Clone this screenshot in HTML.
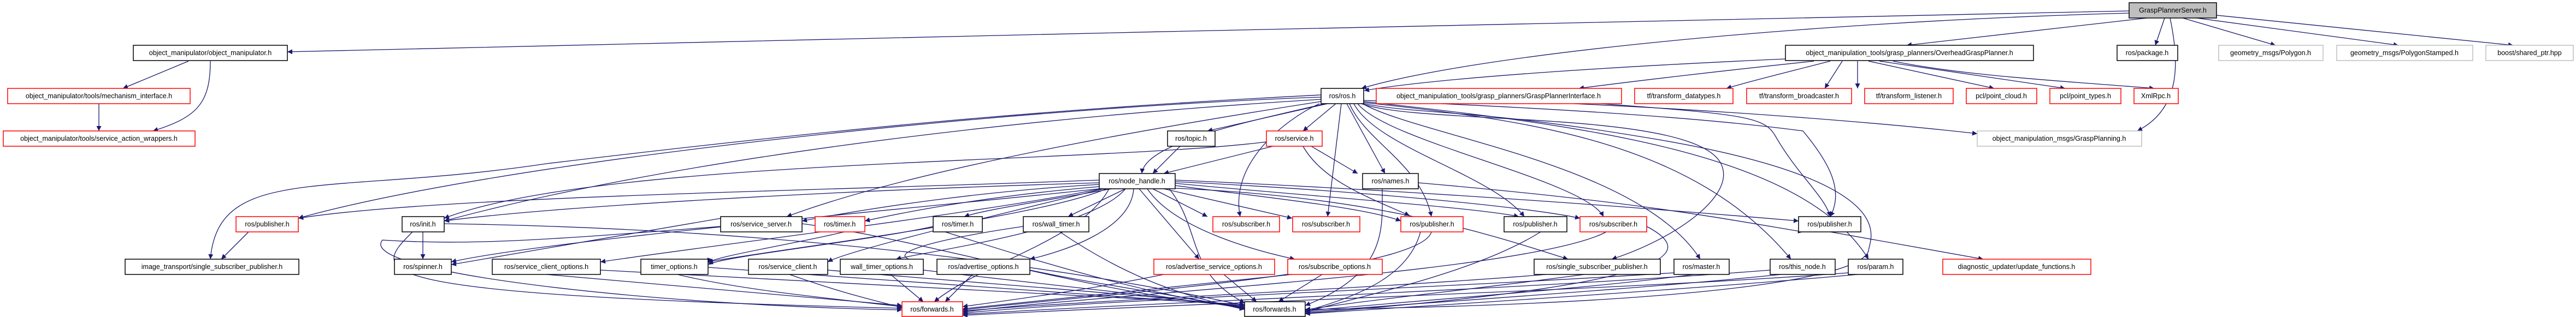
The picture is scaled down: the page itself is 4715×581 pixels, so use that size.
<!DOCTYPE html>
<html><head><meta charset="utf-8"><style>
html,body{margin:0;padding:0;background:#fff}
svg{display:block}
text{font-family:"Liberation Sans",sans-serif;font-size:12.5px;fill:#000;text-anchor:middle;dominant-baseline:central}
.e{fill:none;stroke:#191970;stroke-width:1.3}
.n{fill:#fff;stroke:#000;stroke-width:1.5}
.r{fill:#fff;stroke:#ff0000;stroke-width:1.5}
.g{fill:#fff;stroke:#bfbfbf;stroke-width:1.5}
</style></head><body>
<svg width="4715" height="581" viewBox="0 0 4715 581" xmlns="http://www.w3.org/2000/svg">
<defs><marker id="a" viewBox="0 0 10 10" refX="10" refY="5" markerWidth="9" markerHeight="9" markerUnits="userSpaceOnUse" orient="auto"><path d="M0,0 L10,5 L0,10 z" fill="#191970"/></marker></defs>
<g class="e" marker-end="url(#a)">
<path d="M3897,20 C3000,40 1500,70 526,95"/>
<path d="M3897,24 C3300,40 2700,100 2492,162"/>
<path d="M3930,33 C3700,60 3550,75 3490,83"/>
<path d="M3962,33 L3945,83"/>
<path d="M3972,33 C3990,120 3990,200 3912,240"/>
<path d="M3995,33 L4165,83"/>
<path d="M4020,33 L4390,83"/>
<path d="M4057,28 L4600,83"/>
<path d="M345,112 L225,162"/>
<path d="M385,112 C385,190 360,215 280,240"/>
<path d="M181,190 L181,240"/>
<path d="M3268,108 C3000,120 2650,140 2497,166"/>
<path d="M3320,112 C3150,130 2980,150 2890,162"/>
<path d="M3350,112 C3260,135 3200,150 3160,162"/>
<path d="M3372,112 L3340,162"/>
<path d="M3400,112 L3400,162"/>
<path d="M3420,112 L3650,162"/>
<path d="M3440,112 L3780,162"/>
<path d="M3465,112 C3600,140 3800,150 3943,162"/>
<path d="M2880,190 C3100,200 3400,220 3619,245"/>
<path d="M2930,190 C3200,210 3230,215 3250,250 C3290,320 3340,360 3350,397"/>
<path d="M2430,190 L2210,240"/>
<path d="M2445,190 L2385,240"/>
<path d="M2425,190 C2300,220 2095,260 2090,318"/>
<path d="M2465,190 L2535,318"/>
<path d="M2415,190 C2350,220 2250,300 2270,397"/>
<path d="M2455,190 L2430,397"/>
<path d="M2470,190 C2500,260 2600,300 2620,397"/>
<path d="M2478,190 C2520,270 2730,320 2790,397"/>
<path d="M2485,190 C2540,260 2900,330 2935,397"/>
<path d="M2492,190 C2600,230 3100,200 3150,300 C3180,360 3060,440 2950,475"/>
<path d="M2494,190 C2600,250 3000,300 3112,475"/>
<path d="M2496,188 C2800,220 3100,260 3278,475"/>
<path d="M2496,186 C2900,230 3300,280 3420,475"/>
<path d="M2496,184 C2900,200 3150,220 3300,240 C3350,300 3375,350 3350,397"/>
<path d="M2418,182 C1800,220 1200,300 813,405"/>
<path d="M2418,178 C1800,200 900,300 546,400"/>
<path d="M2418,186 C2200,220 1700,300 1440,397"/>
<path d="M2418,174 C1900,200 1500,240 1000,300 C600,360 400,300 385,475"/>
<path d="M2496,190 C2600,210 2700,200 3000,250 C3500,330 3420,440 3420,460 C3400,520 3000,560 2389,567"/>
<path d="M2330,268 L2130,318"/>
<path d="M2400,268 L2485,318"/>
<path d="M2318,260 C2000,300 1100,290 813,400"/>
<path d="M2385,268 C2420,330 2500,360 2580,395"/>
<path d="M2160,268 L2110,318"/>
<path d="M2530,346 C2530,420 2540,500 2389,560"/>
<path d="M2596,335 C3000,370 3150,400 3300,425"/>
<path d="M2012,330 C1500,350 800,360 546,400"/>
<path d="M2012,335 C1500,350 1000,380 813,405"/>
<path d="M2012,338 C1800,350 1600,380 1468,405"/>
<path d="M2012,342 C1800,360 1650,390 1583,405"/>
<path d="M2035,346 C1900,370 1800,385 1765,397"/>
<path d="M2060,346 L1955,397"/>
<path d="M2110,346 L2210,397"/>
<path d="M2130,346 L2365,400"/>
<path d="M2151,340 C2300,360 2500,380 2564,405"/>
<path d="M2151,336 C2400,360 2700,380 2780,397"/>
<path d="M2151,333 C2500,350 2800,380 2892,400"/>
<path d="M2151,330 C2600,350 3000,380 3292,405"/>
<path d="M2085,346 L2195,475"/>
<path d="M2100,346 C2150,420 2300,460 2370,475"/>
<path d="M2075,346 C2070,420 1950,460 1885,475"/>
<path d="M2060,346 C2000,420 1700,460 1640,475"/>
<path d="M2025,346 C1900,400 1400,460 1296,480"/>
<path d="M2015,346 C1800,390 1300,450 1099,480"/>
<path d="M2020,346 C1800,400 1550,460 1515,480"/>
<path d="M2012,346 C1700,380 1000,440 826,480"/>
<path d="M2030,346 C1980,440 1800,480 1710,553"/>
<path d="M2140,346 C2200,420 2170,500 2278,555"/>
<path d="M2151,345 C2500,360 2700,420 2870,475"/>
<path d="M455,425 L405,475"/>
<path d="M774,425 L774,475"/>
<path d="M755,425 C680,500 640,540 1651,565"/>
<path d="M813,410 C1500,420 2000,500 2278,560"/>
<path d="M1319,415 C1000,440 860,450 700,440 C650,500 1200,560 1651,568"/>
<path d="M1468,410 C1700,440 2000,540 2278,562"/>
<path d="M1320,400 L826,485"/>
<path d="M1583,415 C1500,440 1300,470 1296,482"/>
<path d="M1708,415 C1600,440 1320,470 1296,485"/>
<path d="M1730,425 C1900,480 2100,540 2278,565"/>
<path d="M1873,415 C1700,440 1600,470 1690,480"/>
<path d="M1940,425 C2050,500 2150,540 2278,567"/>
<path d="M2600,425 C2580,500 2500,540 2389,570"/>
<path d="M2620,425 C2600,500 2000,540 1762,568"/>
<path d="M2820,425 C2700,500 2500,540 2389,572"/>
<path d="M2940,425 C2800,500 2000,540 1762,572"/>
<path d="M3014,415 C3100,460 3100,520 2389,574"/>
<path d="M3350,425 L3630,475"/>
<path d="M1000,503 C1300,530 1500,545 1651,560"/>
<path d="M1099,495 C1600,520 2000,540 2278,558"/>
<path d="M1240,503 C1350,530 1500,545 1651,562"/>
<path d="M1296,490 C1700,520 2000,540 2278,560"/>
<path d="M1445,503 C1550,540 1600,550 1651,564"/>
<path d="M1515,495 C1800,520 2100,540 2278,562"/>
<path d="M1630,503 L1690,553"/>
<path d="M1690,495 C1900,520 2100,540 2278,564"/>
<path d="M1780,503 L1730,553"/>
<path d="M1885,495 C2000,520 2150,540 2278,566"/>
<path d="M2130,503 C2000,530 1850,550 1762,562"/>
<path d="M2240,503 L2300,553"/>
<path d="M2365,503 C2100,530 1900,550 1762,566"/>
<path d="M2420,503 L2340,553"/>
<path d="M2830,503 C2500,530 2000,550 1762,570"/>
<path d="M2900,503 C2700,530 2500,550 2389,568"/>
<path d="M3064,500 C2600,530 2000,550 1762,574"/>
<path d="M3100,503 C2900,530 2600,550 2389,570"/>
<path d="M3240,495 C2800,530 2100,555 1762,576"/>
<path d="M3260,503 C3000,530 2600,555 2389,572"/>
<path d="M3383,500 C3000,530 2200,555 1762,578"/>
<path d="M3400,503 C3100,530 2700,555 2389,575"/>
</g>
<g>
<rect class="n" x="3897" y="5" width="160" height="28" style="fill:#bfbfbf"/><text x="3977" y="19">GraspPlannerServer.h</text>
<rect class="n" x="244" y="83" width="282" height="28"/><text x="385" y="97">object_manipulator/object_manipulator.h</text>
<rect class="n" x="3268" y="83" width="454" height="28"/><text x="3495" y="97">object_manipulation_tools/grasp_planners/OverheadGraspPlanner.h</text>
<rect class="n" x="3875" y="83" width="111" height="28"/><text x="3930" y="97">ros/package.h</text>
<rect class="g" x="4061" y="83" width="191" height="28"/><text x="4156" y="97">geometry_msgs/Polygon.h</text>
<rect class="g" x="4277" y="83" width="249" height="28"/><text x="4401" y="97">geometry_msgs/PolygonStamped.h</text>
<rect class="g" x="4550" y="83" width="160" height="28"/><text x="4630" y="97">boost/shared_ptr.hpp</text>
<rect class="r" x="14" y="162" width="334" height="28"/><text x="181" y="176">object_manipulator/tools/mechanism_interface.h</text>
<rect class="n" x="2418" y="162" width="78" height="28"/><text x="2457" y="176">ros/ros.h</text>
<rect class="r" x="2519" y="162" width="449" height="28"/><text x="2743" y="176">object_manipulation_tools/grasp_planners/GraspPlannerInterface.h</text>
<rect class="r" x="2992" y="162" width="180" height="28"/><text x="3082" y="176">tf/transform_datatypes.h</text>
<rect class="r" x="3197" y="162" width="192" height="28"/><text x="3293" y="176">tf/transform_broadcaster.h</text>
<rect class="r" x="3413" y="162" width="162" height="28"/><text x="3494" y="176">tf/transform_listener.h</text>
<rect class="r" x="3599" y="162" width="129" height="28"/><text x="3663" y="176">pcl/point_cloud.h</text>
<rect class="r" x="3752" y="162" width="130" height="28"/><text x="3817" y="176">pcl/point_types.h</text>
<rect class="r" x="3906" y="162" width="81" height="28"/><text x="3946" y="176">XmlRpc.h</text>
<rect class="r" x="6" y="240" width="351" height="28"/><text x="181" y="254">object_manipulator/tools/service_action_wrappers.h</text>
<rect class="n" x="2137" y="240" width="87" height="28"/><text x="2180" y="254">ros/topic.h</text>
<rect class="r" x="2318" y="240" width="102" height="28"/><text x="2369" y="254">ros/service.h</text>
<rect class="g" x="3619" y="240" width="301" height="28"/><text x="3769" y="254">object_manipulation_msgs/GraspPlanning.h</text>
<rect class="n" x="2012" y="318" width="139" height="28"/><text x="2081" y="332">ros/node_handle.h</text>
<rect class="n" x="2494" y="318" width="102" height="28"/><text x="2545" y="332">ros/names.h</text>
<rect class="r" x="432" y="397" width="114" height="28"/><text x="489" y="411">ros/publisher.h</text>
<rect class="n" x="736" y="397" width="77" height="28"/><text x="774" y="411">ros/init.h</text>
<rect class="n" x="1319" y="397" width="149" height="28"/><text x="1393" y="411">ros/service_server.h</text>
<rect class="r" x="1492" y="397" width="91" height="28"/><text x="1537" y="411">ros/timer.h</text>
<rect class="n" x="1708" y="397" width="90" height="28"/><text x="1753" y="411">ros/timer.h</text>
<rect class="n" x="1873" y="397" width="120" height="28"/><text x="1933" y="411">ros/wall_timer.h</text>
<rect class="r" x="2220" y="397" width="122" height="28"/><text x="2281" y="411">ros/subscriber.h</text>
<rect class="r" x="2366" y="397" width="123" height="28"/><text x="2427" y="411">ros/subscriber.h</text>
<rect class="r" x="2564" y="397" width="114" height="28"/><text x="2621" y="411">ros/publisher.h</text>
<rect class="n" x="2753" y="397" width="115" height="28"/><text x="2810" y="411">ros/publisher.h</text>
<rect class="r" x="2892" y="397" width="122" height="28"/><text x="2953" y="411">ros/subscriber.h</text>
<rect class="n" x="3292" y="397" width="114" height="28"/><text x="3349" y="411">ros/publisher.h</text>
<rect class="n" x="229" y="475" width="318" height="28"/><text x="388" y="489">image_transport/single_subscriber_publisher.h</text>
<rect class="n" x="722" y="475" width="104" height="28"/><text x="774" y="489">ros/spinner.h</text>
<rect class="n" x="901" y="475" width="198" height="28"/><text x="1000" y="489">ros/service_client_options.h</text>
<rect class="n" x="1173" y="475" width="123" height="28"/><text x="1234" y="489">timer_options.h</text>
<rect class="n" x="1370" y="475" width="145" height="28"/><text x="1442" y="489">ros/service_client.h</text>
<rect class="n" x="1538" y="475" width="152" height="28"/><text x="1614" y="489">wall_timer_options.h</text>
<rect class="n" x="1715" y="475" width="170" height="28"/><text x="1800" y="489">ros/advertise_options.h</text>
<rect class="r" x="2112" y="475" width="221" height="28"/><text x="2222" y="489">ros/advertise_service_options.h</text>
<rect class="r" x="2357" y="475" width="173" height="28"/><text x="2443" y="489">ros/subscribe_options.h</text>
<rect class="n" x="2808" y="475" width="231" height="28"/><text x="2923" y="489">ros/single_subscriber_publisher.h</text>
<rect class="n" x="3064" y="475" width="101" height="28"/><text x="3114" y="489">ros/master.h</text>
<rect class="n" x="3240" y="475" width="119" height="28"/><text x="3299" y="489">ros/this_node.h</text>
<rect class="n" x="3383" y="475" width="100" height="28"/><text x="3433" y="489">ros/param.h</text>
<rect class="r" x="3556" y="475" width="271" height="28"/><text x="3691" y="489">diagnostic_updater/update_functions.h</text>
<rect class="r" x="1651" y="553" width="111" height="27"/><text x="1706" y="567">ros/forwards.h</text>
<rect class="n" x="2278" y="553" width="111" height="27"/><text x="2333" y="567">ros/forwards.h</text>
</g>
</svg>
</body></html>
